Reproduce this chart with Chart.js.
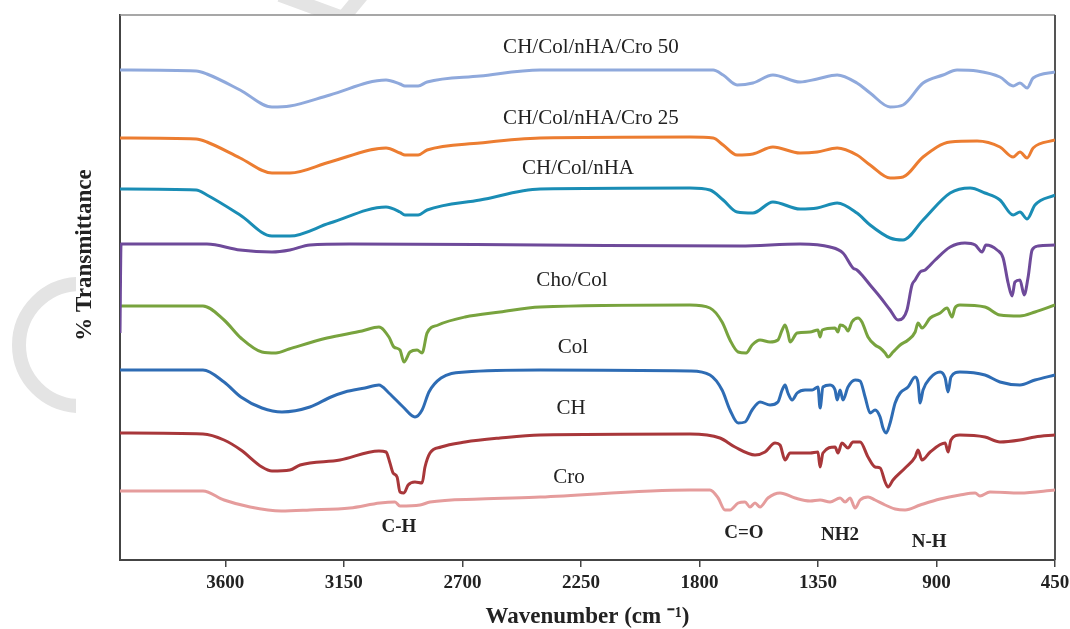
<!DOCTYPE html>
<html>
<head>
<meta charset="utf-8">
<script src="https://cdn.jsdelivr.net/npm/chart.js@4.4.1/dist/chart.umd.min.js"></script>
<style>
  body { margin: 0; background: #fff; }
  canvas { display: block; }
</style>
</head>
<body>
<canvas id="ftir" width="1070" height="629"></canvas>
<script>
// x ticks (wavenumber, cm-1)
const xTicks = [3600, 3150, 2700, 2250, 1800, 1350, 900, 450];

// series names (text written above each trace), top to bottom
const seriesNames = ['CH/Col/nHA/Cro 50', 'CH/Col/nHA/Cro 25', 'CH/Col/nHA', '(unlabelled)', 'Cho/Col', 'Col', 'CH', 'Cro'];

// spectra: [wavenumber, % transmittance (offset, arbitrary)]
const specCro50 = [[4000,98],[3711,97.8],[3670,97.2],[3544,94],[3423,90.6],[3355,90.8],[3203,93],[2990,96],[2937,95.2],[2918,94.8],[2868,94.8],[2834,95.6],[2633,96.8],[2405,98],[1836,98],[1748,98],[1710,97],[1657,95],[1597,95.4],[1521,97],[1418,95.6],[1353,96.2],[1277,97],[1202,95.4],[1152,93.4],[1076,90.6],[1027,91],[951,95.4],[875,97],[822,98],[746,97.8],[659,96.6],[609,94.8],[583,95.4],[556,94.4],[533,96.4],[450,97.6]];
const specCro25 = [[4000,84.4],[3711,84.2],[3670,83.6],[3544,80.4],[3423,77.4],[3355,77.4],[3203,79.6],[2990,82.4],[2937,81.4],[2918,81],[2868,81],[2834,82],[2633,83.4],[2405,84.4],[1836,84.6],[1748,84.4],[1710,83],[1657,81],[1597,81.2],[1521,82.6],[1418,81.4],[1353,81.6],[1277,82.4],[1202,81],[1152,79],[1076,76.4],[1027,76.6],[951,80.6],[848,83.6],[746,83.8],[659,82.6],[609,80.6],[583,81.6],[556,80.4],[533,82.4],[450,84]];
const specNHA = [[4000,74.2],[3711,74],[3670,73],[3544,69],[3423,64.8],[3355,64.8],[3203,67.4],[2990,70.6],[2937,69.6],[2918,69],[2868,69],[2834,70],[2633,72],[2405,74.2],[1836,74.4],[1760,74],[1710,72],[1657,69.6],[1597,69.4],[1521,71.6],[1418,70.2],[1353,70.4],[1277,71.4],[1202,69.4],[1152,67],[1076,64.4],[1027,64],[951,68],[848,73.4],[772,74.4],[716,73.4],[659,72],[609,69],[583,69.6],[556,68.2],[526,71],[450,73]];
const specPurple = [[4000,45.4],[3996,63.2],[3670,63.2],[3544,62],[3423,61.6],[3355,62],[3279,63],[3127,63.2],[2405,63],[1646,62.8],[1418,63.2],[1304,62.6],[1255,61.4],[1217,58.4],[1202,58],[1183,57],[1152,55],[1114,52.6],[1076,50],[1046,48],[1027,48.4],[1012,50],[993,55],[981,56],[962,57.6],[943,58],[905,60],[848,62.6],[792,63.4],[753,63],[727,61.6],[712,63],[670,62],[647,60.4],[628,55.4],[613,52.8],[602,55.6],[583,56],[567,53],[552,56.6],[537,62],[514,62.8],[450,63]];
const specGreen = [[4000,50.8],[3685,50.8],[3605,48],[3541,44.4],[3461,41.6],[3408,41.4],[3358,42.2],[3214,44.4],[3081,45.8],[3017,46.6],[2979,44.6],[2960,42.6],[2937,42],[2922,39.6],[2899,41.6],[2872,42],[2853,41.4],[2834,45.4],[2792,47],[2690,48.6],[2557,49.6],[2405,50.6],[1836,51],[1760,50.4],[1714,47.6],[1684,44],[1653,41.6],[1623,41.4],[1600,43],[1570,44],[1532,43.6],[1502,44],[1486,46],[1475,47],[1464,45.4],[1456,43.6],[1429,45.4],[1380,45.6],[1350,46],[1342,44.6],[1334,46],[1285,46.4],[1274,45.6],[1266,47],[1247,46.6],[1236,45.8],[1221,47.6],[1198,48.4],[1183,47.6],[1160,44.6],[1133,43],[1114,42.4],[1095,41.4],[1084,40.6],[1065,41.6],[1038,43],[1008,44],[981,45.6],[970,47.4],[955,46.4],[924,48.4],[886,49.4],[860,50.4],[841,48.6],[830,50.4],[811,51],[716,50.6],[659,49],[583,48.8],[526,49.6],[450,51]];
const specBlue = [[4000,38],[3685,38],[3605,35.6],[3541,32.6],[3461,30.4],[3385,29.6],[3279,30.6],[3199,32.6],[3146,33.6],[3070,34.4],[3017,35],[2979,33.4],[2925,30.6],[2880,28.6],[2853,30],[2827,33.6],[2781,36.4],[2690,37.6],[2405,38],[1836,37.8],[1760,37],[1714,34],[1684,30],[1653,27.4],[1627,27.6],[1600,30],[1570,31.6],[1532,31],[1502,31.6],[1486,34],[1475,35],[1464,33.4],[1448,32],[1429,33.4],[1399,34],[1372,34],[1350,34.6],[1342,30.4],[1331,34.6],[1304,35],[1285,34],[1277,32],[1266,34],[1255,32],[1236,34.6],[1209,36],[1190,35.8],[1171,32.6],[1152,29.4],[1133,30],[1114,28.6],[1103,26.4],[1091,25.4],[1076,27.4],[1057,31.4],[1038,33.4],[1008,34.6],[981,36.6],[970,35.4],[962,31.4],[951,34],[924,36.4],[886,37.6],[867,36.4],[856,33.6],[845,36.6],[811,37.6],[716,37],[659,35.6],[583,35],[526,36],[450,37]];
const specRed = [[4000,25.4],[3685,25.2],[3605,24],[3541,22],[3461,18.6],[3423,17.8],[3355,18],[3316,19],[3165,20],[3017,21.8],[2990,21.6],[2975,19.4],[2963,17.4],[2948,16.6],[2937,13.6],[2922,13.4],[2906,15],[2880,15.6],[2853,15.4],[2842,18.6],[2823,21.4],[2781,22.6],[2690,23.6],[2557,24.4],[2405,25],[1836,25.2],[1722,24.4],[1665,22.6],[1589,21],[1551,21.6],[1513,23.4],[1494,23],[1475,20],[1456,21.4],[1380,21.4],[1350,21.6],[1342,18.6],[1331,21.4],[1285,22.6],[1274,21.4],[1259,23.4],[1236,22.4],[1217,23.6],[1190,23.6],[1160,20.6],[1133,18.6],[1114,18.4],[1095,15.6],[1084,14.6],[1065,16],[1019,18.4],[981,20.6],[970,22],[955,20],[924,21.6],[867,23.4],[856,21.6],[845,24],[811,25],[716,24.6],[659,23.6],[583,24],[526,24.6],[450,25]];
const specPink = [[4000,13.8],[3685,13.8],[3605,12],[3506,10.6],[3388,9.8],[3279,10],[3127,10.4],[3013,11.4],[2956,11.6],[2937,10.8],[2861,11],[2823,11.6],[2633,12.2],[2405,12.6],[1836,14],[1760,14],[1729,12.4],[1703,10],[1684,10],[1653,11.4],[1627,11.6],[1608,10.6],[1589,11.4],[1570,10.6],[1540,12.4],[1494,13.4],[1437,12.4],[1380,11.8],[1342,12],[1304,11.6],[1266,12.4],[1247,11.6],[1228,12.4],[1209,10.4],[1190,12],[1160,12.6],[1133,12],[1095,11],[1057,10.2],[1019,10],[962,11],[886,12.2],[811,13],[753,13.4],[735,12.8],[697,13.6],[583,13.4],[450,14]];

// text annotations: series captions and band assignments
const captionText = ['CH/Col/nHA/Cro 50', 'CH/Col/nHA/Cro 25', 'CH/Col/nHA', 'Cho/Col', 'Col', 'CH', 'Cro'];
const captionWn   = [2212, 2212, 2261, 2284, 2280, 2287, 2295];
const captionT    = [102.6, 88.4, 78.4, 56, 42.6, 30.4, 16.6];
const bandText = ['C-H', 'C=O', 'NH2', 'N-H'];
const bandWn   = [2941, 1631, 1266, 928];
const bandT    = [6.6, 5.4, 5, 3.6];

const spectra = [specCro50, specCro25, specNHA, specPurple, specGreen, specBlue, specRed, specPink];
const colors = ['#8fa9dc', '#ec7d31', '#1a8db5', '#6e4a9a', '#78a33e', '#2e6cb4', '#a8373a', '#e59c9c'];

const serif = "'Liberation Serif', 'Times New Roman', serif";
Chart.defaults.font.family = serif;
Chart.defaults.color = '#222';

const watermark = {
    id: 'watermark',
    beforeDraw(chart) {
        const ctx = chart.ctx;
        ctx.save();
        ctx.strokeStyle = '#e4e4e4';
        ctx.lineWidth = 14;
        ctx.lineCap = 'butt';
        // left arc
        ctx.save();
        ctx.beginPath();
        ctx.rect(0, 0, 76, 629);
        ctx.clip();
        ctx.beginPath();
        ctx.arc(80, 345, 61, Math.PI * 0.5, Math.PI * 1.5);
        ctx.stroke();
        ctx.restore();
        // top stroke
        ctx.beginPath();
        ctx.rect(0, 0, 1070, 15);
        ctx.clip();
        ctx.beginPath();
        ctx.moveTo(280, -5);
        ctx.lineTo(343, 18);
        ctx.lineTo(362, -5);
        ctx.stroke();
        ctx.restore();
    }
};

const frame = {
    id: 'frame',
    beforeDatasetsDraw(chart) {
        const { ctx, chartArea: a } = chart;
        ctx.save();
        ctx.strokeStyle = '#8a8a8a';
        ctx.lineWidth = 1.5;
        ctx.beginPath();
        ctx.moveTo(a.left, a.top);
        ctx.lineTo(a.right, a.top);
        ctx.stroke();
        ctx.strokeStyle = '#555';
        ctx.lineWidth = 2;
        ctx.beginPath();
        ctx.moveTo(a.right, a.top);
        ctx.lineTo(a.right, a.bottom);
        ctx.stroke();
        // y axis title (sits above the centre of the axis in the original)
        ctx.translate(85, 255);
        ctx.rotate(-Math.PI / 2);
        ctx.fillStyle = '#222';
        ctx.font = 'bold 23px ' + serif;
        ctx.textAlign = 'center';
        ctx.textBaseline = 'middle';
        ctx.fillText('% Transmittance', 0, 0);
        ctx.restore();
    }
};

const annotations = {
    id: 'annotations',
    afterDatasetsDraw(chart) {
        const { ctx, scales: { x, y } } = chart;
        ctx.save();
        ctx.fillStyle = '#222';
        ctx.textAlign = 'center';
        ctx.textBaseline = 'middle';
        ctx.font = '21px ' + serif;
        captionText.forEach((t, i) => {
            ctx.fillText(t, x.getPixelForValue(captionWn[i]), y.getPixelForValue(captionT[i]));
        });
        ctx.font = 'bold 19px ' + serif;
        bandText.forEach((t, i) => {
            ctx.fillText(t, x.getPixelForValue(bandWn[i]), y.getPixelForValue(bandT[i]));
        });
        ctx.restore();
    }
};

new Chart(document.getElementById('ftir'), {
    type: 'line',
    data: {
        datasets: spectra.map((s, i) => ({
            label: seriesNames[i],
            data: s.map(p => ({ x: p[0], y: p[1] })),
            borderColor: colors[i],
            borderWidth: 3,
            pointRadius: 0,
            fill: false,
            cubicInterpolationMode: 'monotone'
        }))
    },
    options: {
        responsive: false,
        animation: false,
        devicePixelRatio: 1,
        layout: { padding: { top: 15, right: 15, left: 0, bottom: 0 } },
        plugins: { legend: { display: false }, tooltip: { enabled: false } },
        scales: {
            x: {
                type: 'linear',
                reverse: true,
                min: 450,
                max: 4000,
                afterBuildTicks: (scale) => { scale.ticks = xTicks.map(v => ({ value: v })); },
                afterFit: (scale) => {
                    scale.height = 69;
                    scale.paddingLeft = 0;
                    scale.paddingRight = 0;
                },
                ticks: {
                    autoSkip: false,
                    maxRotation: 0,
                    padding: 5,
                    color: '#222',
                    font: { size: 19, weight: 'bold' },
                    callback: (v) => String(v)
                },
                grid: { display: true, drawOnChartArea: false, drawTicks: true, tickLength: 7, color: '#444', lineWidth: 1.5 },
                border: { display: true, color: '#444', width: 2 },
                title: {
                    display: true,
                    text: 'Wavenumber (cm \u207B\u00B9)',
                    color: '#222',
                    font: { size: 23, weight: 'bold', lineHeight: 1 },
                    padding: { top: 0, bottom: 0 }
                }
            },
            y: {
                type: 'linear',
                min: 0,
                max: 109,
                afterFit: (scale) => { scale.width = 120; },
                ticks: { display: false },
                grid: { display: false },
                border: { display: true, color: '#444', width: 2 }
            }
        }
    },
    plugins: [watermark, frame, annotations]
});
</script>
</body>
</html>
